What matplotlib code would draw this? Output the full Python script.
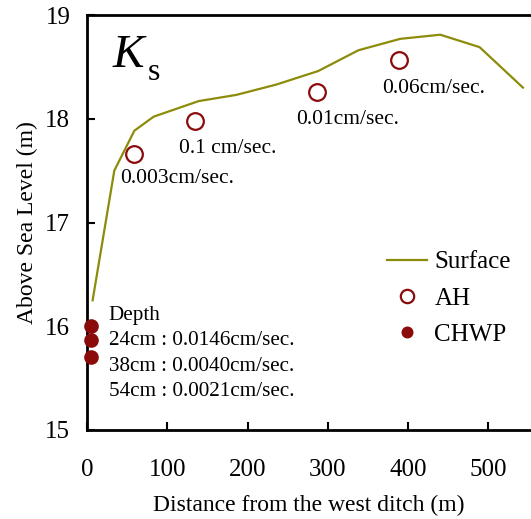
import matplotlib
matplotlib.use("Agg")
import matplotlib.pyplot as plt

plt.rcParams['font.family'] = ['Liberation Serif', 'DejaVu Serif']
plt.rcParams['mathtext.fontset'] = 'custom'
plt.rcParams['mathtext.it'] = 'Liberation Serif:italic'
plt.rcParams['mathtext.rm'] = 'Liberation Serif'

# Surface profile
surf_x = [7, 34, 59, 83, 139, 186, 236, 288, 338, 390, 440, 489, 543]
surf_y = [16.25, 17.50, 17.885, 18.02, 18.17, 18.23, 18.33, 18.46, 18.66, 18.77, 18.81, 18.69, 18.30]

# AH measurements
ah_x = [58, 134, 287, 388]
ah_y = [17.66, 17.98, 18.26, 18.57]
ah_labels = ["0.003cm/sec.", "0.1 cm/sec.", "0.01cm/sec.", "0.06cm/sec."]
ah_label_x = [41, 114, 261, 368]
ah_label_y = [17.38, 17.67, 17.95, 18.245]

# CHWP measurements
chwp_x = [5, 5, 5]
chwp_y = [16.005, 15.87, 15.70]
depth_lines = ["Depth", "24cm : 0.0146cm/sec.", "38cm : 0.0040cm/sec.", "54cm : 0.0021cm/sec."]

xticks = [0, 100, 200, 300, 400, 500]
yticks = [15, 16, 17, 18, 19]

red = '#8b0a0a'
olive = '#8c8c0a'

fig = plt.figure(figsize=(5.31, 5.19), dpi=100)
ax = fig.add_axes([87/531, 89/519, 1 - 87/531, (430-15)/519])

ax.plot(surf_x, surf_y, color=olive, lw=1.6, label='Surface')
ax.plot(ah_x, ah_y, 'o', ms=12, mfc='white', mec=red, mew=1.6, ls='none', label='AH')
ax.plot(chwp_x, chwp_y, 'o', ms=9.5, mfc=red, mec=red, ls='none', label='CHWP', clip_on=False, zorder=5)

for t, x, y in zip(ah_labels, ah_label_x, ah_label_y):
    ax.text(x, y, t, fontsize=15.5, va='baseline', ha='left')

ax.text(27, 15.328, "\n".join(depth_lines), fontsize=15.2, va='baseline', ha='left',
        linespacing=1.45, multialignment='left')

ax.text(31, 18.50, "$K$", fontsize=34, va='baseline', ha='left')
ax.text(76, 18.37, "s", fontsize=23, va='baseline', ha='left')

ax.set_xlim(0, 553)
ax.set_ylim(15, 19)
ax.set_xticks(xticks)
ax.set_yticks(yticks)
ax.tick_params(direction='in', labelsize=18, length=6, width=1.5)
ax.tick_params(axis='x', pad=21)
ax.tick_params(axis='y', pad=12)
for s in ['left', 'bottom', 'top']:
    ax.spines[s].set_linewidth(2)
ax.spines['right'].set_visible(False)

ax.set_xlabel("Distance from the west ditch (m)", fontsize=17, labelpad=10)
ax.set_ylabel("Above Sea Level (m)", fontsize=17, labelpad=5)

leg = ax.legend(loc='upper left', bbox_to_anchor=(387/531, 1 - 251/519), bbox_transform=fig.transFigure,
                frameon=False, fontsize=18, handlelength=1.6, handletextpad=0.3, labelspacing=0.55,
                markerscale=0.8, borderpad=0, borderaxespad=0)

fig.savefig("out.png", dpi=100)
